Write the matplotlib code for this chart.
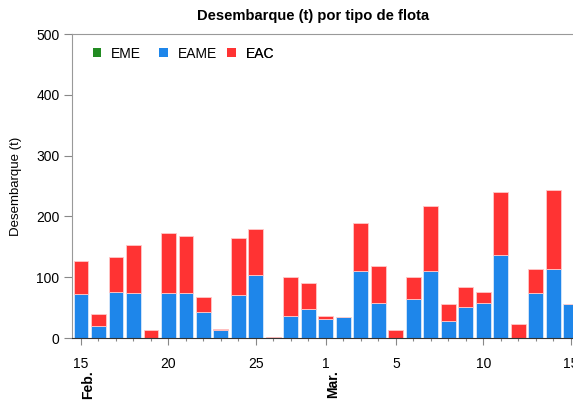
import matplotlib
matplotlib.use("Agg")
import matplotlib.pyplot as plt
import matplotlib.dates as mdates
from matplotlib.patches import Patch
import numpy as np
import pandas as pd

plt.rcParams['font.family'] = ['Liberation Sans', 'DejaVu Sans']

# datos
fechas = pd.date_range("2023-02-15", "2023-03-15", freq="D")
eme = [0] * len(fechas)
eame = [72, 19, 76, 74, 0, 74, 74, 43, 14, 70, 104, 0, 37, 48,
        31, 34, 110, 57, 0, 64, 110, 28, 51, 57, 137, 0, 74, 113, 56]
eac = [54, 20, 57, 79, 14, 98, 94, 24, 1, 94, 75, 1, 63, 43,
       6, 0, 79, 61, 13, 36, 107, 28, 33, 18, 104, 23, 39, 131, 0]

c_eme = '#228B22'
c_eame = '#1E86EA'
c_eac = '#FF3333'

fig = plt.figure(figsize=(5.73, 4.01), dpi=100)
ax = fig.add_axes([0.1257, 0.157, 0.8743, 0.758])

x = mdates.date2num(fechas)
eme = np.array(eme)
eame = np.array(eame)
eac = np.array(eac)
w = 0.85
ax.bar(x, eme, width=w, color=c_eme, edgecolor='white', linewidth=0.6)
ax.bar(x, eame, width=w, bottom=eme, color=c_eame, edgecolor='#d8e8fa', linewidth=0.6)
ax.bar(x, eac, width=w, bottom=eme + eame, color=c_eac, edgecolor='#ffc8c8', linewidth=0.6)

ax.set_xlim(x[0] - 0.51, x[0] - 0.51 + 28.63)
ax.set_ylim(0, 500)
ax.set_yticks([0, 100, 200, 300, 400, 500])

ax.xaxis.set_major_locator(mdates.DayLocator(bymonthday=[1, 5, 10, 15, 20, 25]))
ax.xaxis.set_major_formatter(mdates.DateFormatter('%-d'))
ax.xaxis.set_minor_locator(mdates.DayLocator())
ax.tick_params(axis='x', which='major', length=5, width=0.8, color='#888888', pad=9, labelsize=10)
ax.tick_params(axis='x', which='minor', length=2.5, width=0.8, color='#888888')
ax.tick_params(axis='y', length=6, width=0.8, color='#888888', labelsize=10, pad=3)

for s in ['left', 'top']:
    ax.spines[s].set_color('#999999')
ax.spines['right'].set_visible(False)
ax.spines['bottom'].set_color('#333333')

# etiquetas de mes
for fecha, mes in [(fechas[0], 'Feb.'), (pd.Timestamp("2023-03-01"), 'Mar.')]:
    ax.annotate(mes, xy=(mdates.date2num(fecha), 0), xycoords=('data', 'axes fraction'),
                xytext=(7, -32), textcoords='offset pixels', rotation=90,
                ha='center', va='top', fontsize=10, fontweight='bold')

ax.set_title('Desembarque (t) por tipo de flota', fontsize=10.6, fontweight='bold', pad=10.5, x=0.481)
ax.set_ylabel('Desembarque (t)', fontsize=9.5, labelpad=10)

# leyenda con posiciones fijas por elemento
for col, lab, xa in [(c_eme, 'EME', 0.016), (c_eame, 'EAME', 0.149), (c_eac, 'EAC', 0.285)]:
    leg = ax.legend([Patch(facecolor=col)], [lab], loc='upper left', frameon=False, fontsize=10,
                    handlelength=0.6, handleheight=0.6, handletextpad=0.75,
                    bbox_to_anchor=(xa, 1.0))
    ax.add_artist(leg)

plt.savefig('out.png', dpi=100)
